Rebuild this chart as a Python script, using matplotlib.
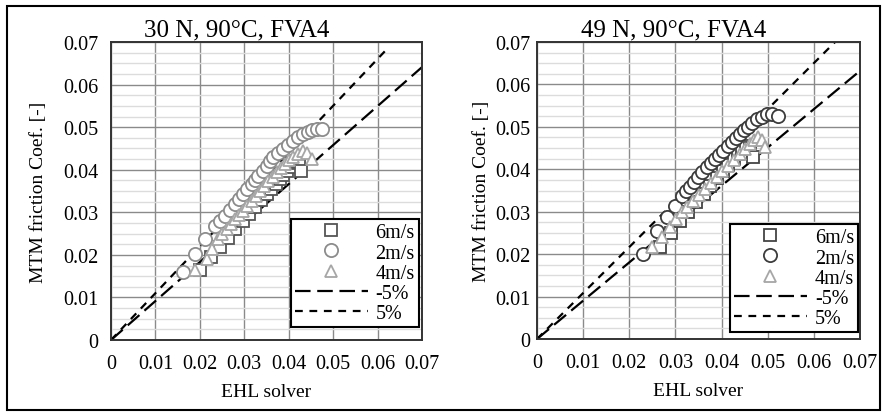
import matplotlib
matplotlib.use('Agg')
import matplotlib.pyplot as plt
from matplotlib.patches import Rectangle
from matplotlib.ticker import MultipleLocator

plt.rcParams['font.family'] = ['Liberation Serif', 'DejaVu Serif']

# 30 N panel
left_sq_x = [0.0200, 0.0225, 0.0245, 0.0263, 0.0280, 0.0296, 0.0311, 0.0325, 0.0338, 0.0350,
             0.0361, 0.0371, 0.0380, 0.0388, 0.0396, 0.0403, 0.0410, 0.0417, 0.0424, 0.0428]
left_sq_y = [0.0165, 0.0195, 0.0219, 0.0240, 0.0260, 0.0279, 0.0296, 0.0313, 0.0328, 0.0342,
             0.0355, 0.0367, 0.0378, 0.0388, 0.0398, 0.0407, 0.0415, 0.0420, 0.0418, 0.0397]
left_ci_x = [0.0162, 0.0189, 0.0212, 0.0234, 0.0246, 0.0257, 0.0268, 0.0279, 0.0288, 0.0297,
             0.0307, 0.0317, 0.0324, 0.0331, 0.0341, 0.0351, 0.0358, 0.0365, 0.0376, 0.0387,
             0.0398, 0.0410, 0.0421, 0.0432, 0.0443, 0.0453, 0.0463, 0.0475]
left_ci_y = [0.0160, 0.0202, 0.0237, 0.0268, 0.0280, 0.0291, 0.0305, 0.0319, 0.0331, 0.0343,
             0.0355, 0.0366, 0.0376, 0.0385, 0.0397, 0.0409, 0.0420, 0.0430, 0.0440, 0.0449,
             0.0458, 0.0467, 0.0476, 0.0484, 0.0489, 0.0493, 0.0495, 0.0496]
left_tr_x = [0.0190, 0.0216, 0.0227, 0.0241, 0.0250, 0.0260, 0.0270, 0.0279, 0.0288, 0.0297,
             0.0307, 0.0317, 0.0326, 0.0335, 0.0345, 0.0354, 0.0364, 0.0373, 0.0382, 0.0392,
             0.0401, 0.0410, 0.0421, 0.0432, 0.0442, 0.0452]
left_tr_y = [0.0165, 0.0190, 0.0214, 0.0237, 0.0249, 0.0260, 0.0272, 0.0284, 0.0293, 0.0303,
             0.0315, 0.0327, 0.0338, 0.0350, 0.0362, 0.0374, 0.0384, 0.0394, 0.0404, 0.0413,
             0.0422, 0.0430, 0.0437, 0.0444, 0.0440, 0.0425]
left_lo_x = [0, 0.07]
left_lo_y = [0, 0.0641]
left_hi_x = [0, 0.0618]
left_hi_y = [0, 0.0680]

# 49 N panel
right_sq_x = [0.0267, 0.0290, 0.0310, 0.0328, 0.0345, 0.0361, 0.0376, 0.0390, 0.0403, 0.0415,
              0.0426, 0.0436, 0.0445, 0.0453, 0.0461, 0.0468]
right_sq_y = [0.0217, 0.0250, 0.0277, 0.0300, 0.0322, 0.0342, 0.0361, 0.0379, 0.0395, 0.0410,
              0.0424, 0.0437, 0.0448, 0.0455, 0.0450, 0.0429]
right_ci_x = [0.0230, 0.0260, 0.0282, 0.0299, 0.0314, 0.0323, 0.0332, 0.0341, 0.0349, 0.0358,
              0.0368, 0.0377, 0.0386, 0.0395, 0.0403, 0.0413, 0.0423, 0.0432, 0.0440, 0.0449,
              0.0457, 0.0467, 0.0477, 0.0487, 0.0498, 0.0510, 0.0522]
right_ci_y = [0.0200, 0.0255, 0.0288, 0.0314, 0.0338, 0.0348, 0.0358, 0.0370, 0.0382, 0.0394,
              0.0405, 0.0415, 0.0424, 0.0434, 0.0443, 0.0454, 0.0464, 0.0474, 0.0483, 0.0492,
              0.0500, 0.0509, 0.0518, 0.0524, 0.0530, 0.0530, 0.0526]
right_tr_x = [0.0249, 0.0270, 0.0288, 0.0301, 0.0314, 0.0326, 0.0338, 0.0351, 0.0364, 0.0377,
              0.0390, 0.0402, 0.0414, 0.0427, 0.0440, 0.0451, 0.0462, 0.0471, 0.0479, 0.0487,
              0.0494]
right_tr_y = [0.0217, 0.0241, 0.0264, 0.0282, 0.0299, 0.0312, 0.0325, 0.0340, 0.0354, 0.0368,
              0.0382, 0.0395, 0.0408, 0.0422, 0.0436, 0.0448, 0.0460, 0.0469, 0.0476, 0.0470,
              0.0453]
right_lo_x = [0, 0.07]
right_lo_y = [0, 0.0632]
right_hi_x = [0, 0.0646]
right_hi_y = [0, 0.0700]

ticks = [0, 0.01, 0.02, 0.03, 0.04, 0.05, 0.06, 0.07]
tick_labels = ['0', '0.01', '0.02', '0.03', '0.04', '0.05', '0.06', '0.07']

fig = plt.figure(figsize=(8.85, 4.14), dpi=100)
fig.patches.append(Rectangle((7 / 885, 3 / 414), 873 / 885, 404 / 414, transform=fig.transFigure,
                             fill=False, edgecolor='black', linewidth=1.5))

ax1 = fig.add_axes([111 / 885, 73 / 414, 311 / 885, 298 / 414])
ax2 = fig.add_axes([537 / 885, 74 / 414, 323 / 885, 297 / 414])

panels = [
    (ax1, '30 N, 90°C, FVA4', left_sq_x, left_sq_y, left_ci_x, left_ci_y, left_tr_x, left_tr_y,
     left_lo_x, left_lo_y, left_hi_x, left_hi_y, '#555555', '#8c8c8c', 0.405, -0.205, 9, (0.99, 0.044)),
    (ax2, '49 N, 90°C, FVA4', right_sq_x, right_sq_y, right_ci_x, right_ci_y, right_tr_x, right_tr_y,
     right_lo_x, right_lo_y, right_hi_x, right_hi_y, '#444444', '#3c3c3c', 0.424, -0.146, 5, (0.994, 0.024)),
]

for (ax, title, sx, sy, cx, cy, tx, ty, lx, ly, hx, hy, sq_col, ci_col,
     title_x, ylab_x, ypad, leg_pos) in panels:
    ax.plot(sx, sy, 's', ms=8, mfc='white', mec=sq_col, mew=1.3, label='6m/s', zorder=3)
    ax.plot(cx, cy, 'o', ms=9.5, mfc='white', mec=ci_col, mew=1.3, label='2m/s', zorder=3)
    ax.plot(tx, ty, '^', ms=9, mfc='white', mec='#a6a6a6', mew=1.3, label='4m/s', zorder=3)
    ax.plot(lx, ly, color='black', lw=1.6, dashes=(7, 3), label='-5%', zorder=2)
    ax.plot(hx, hy, color='black', lw=1.6, dashes=(3.5, 3), label='5%', zorder=2)

    ax.set_xlim(0, 0.07)
    ax.set_ylim(0, 0.07)
    ax.set_xticks(ticks)
    ax.set_xticklabels(tick_labels)
    ax.set_yticks(ticks)
    ax.set_yticklabels(tick_labels)
    ax.yaxis.set_minor_locator(MultipleLocator(0.0025))
    ax.grid(which='major', color='#8a8a8a', lw=1)
    ax.grid(which='minor', axis='y', color='#dcdcdc', lw=1)
    ax.set_axisbelow(True)
    ax.tick_params(which='both', length=0, labelsize=14.5)
    ax.tick_params(axis='y', pad=ypad)
    ax.tick_params(axis='x', pad=10)
    for s in ax.spines.values():
        s.set_linewidth(1.4)
        s.set_color('#333333')

    ax.text(title_x, 1.022, title, transform=ax.transAxes, ha='center', va='baseline', fontsize=18)
    ax.set_xlabel('EHL solver', fontsize=14)
    ax.xaxis.set_label_coords(0.5, -0.145)
    ax.set_ylabel('MTM friction Coef. [-]', fontsize=14)
    ax.yaxis.set_label_coords(ylab_x, 0.5)

    leg = ax.legend(loc='lower right', bbox_to_anchor=leg_pos, borderaxespad=0, fontsize=14.5,
                    fancybox=False, framealpha=1, edgecolor='black', handlelength=3.6,
                    labelspacing=0.05, borderpad=0.2, handletextpad=0.4)
    leg.get_frame().set_linewidth(1.5)

plt.savefig('out.png', dpi=100)
